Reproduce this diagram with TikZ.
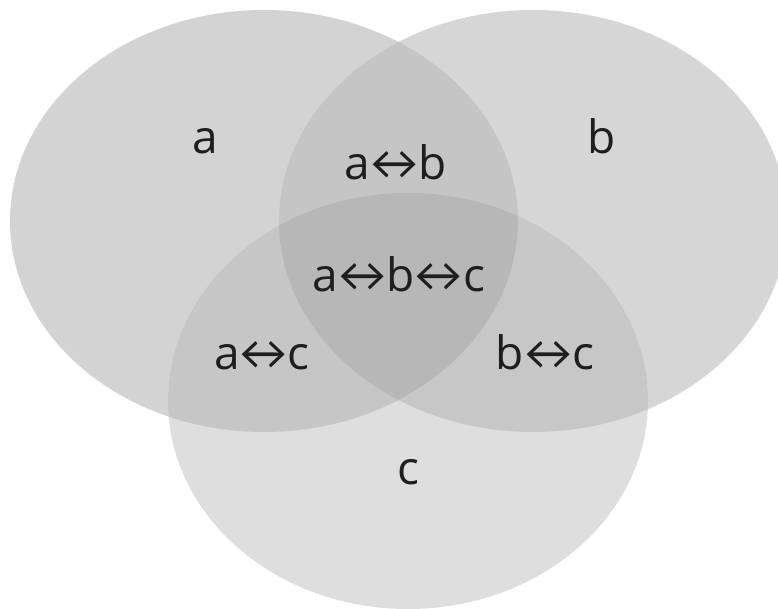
\documentclass[tikz,border=0pt]{standalone}
\usepackage{fontspec}
\usepackage{graphicx}
\setmainfont{Open Sans}
\newfontfamily\arrfont{Lato}
\newcommand\lrarr{\scalebox{1.05}[1]{\arrfont ↔}}
\definecolor{ga}{HTML}{D3D3D3}
\definecolor{gb}{HTML}{D6D6D6}
\definecolor{gc}{HTML}{DEDEDE}
\definecolor{gab}{HTML}{C5C5C5}
\definecolor{gac}{HTML}{C6C6C6}
\definecolor{gbc}{HTML}{C7C7C7}
\definecolor{gabc}{HTML}{B7B7B7}
\definecolor{txt}{HTML}{1E1E1E}
\tikzset{
  lbl/.style={text=txt, font=\fontsize{46}{50}\selectfont, inner sep=0pt, anchor=base},
}
\begin{document}
\begin{tikzpicture}[x=1pt,y=-1pt]
\useasboundingbox (0,0) rectangle (778,609);
\clip (0,0) rectangle (778,609);
\def\ea{(264,221) ellipse [x radius=254, y radius=211]}
\def\eb{(533,221) ellipse [x radius=254, y radius=211]}
\def\ec{(408,401) ellipse [x radius=240, y radius=208]}
\fill[ga] \ea;
\fill[gb] \eb;
\fill[gc] \ec;
\begin{scope}
  \clip \ea;
  \fill[gab] \eb;
  \fill[gac] \ec;
  \clip \eb;
  \fill[gabc] \ec;
\end{scope}
\begin{scope}[even odd rule]
  \clip \eb;
  \clip \ec;
  \fill[gbc] (0,0) rectangle (778,609) \ea;
\end{scope}
\node[lbl] (la) at (205,154) {a};
\node[lbl] (lb) at (602,154) {b};
\node[lbl] (lab) at (396,180) {a\lrarr b};
\node[lbl] (labc) at (399,291) {a\lrarr b\lrarr c};
\node[lbl] (lac) at (262,369) {a\lrarr c};
\node[lbl] (lbc) at (545,369) {b\lrarr c};
\node[lbl] (lc) at (408,484) {c};
\end{tikzpicture}
\end{document}
